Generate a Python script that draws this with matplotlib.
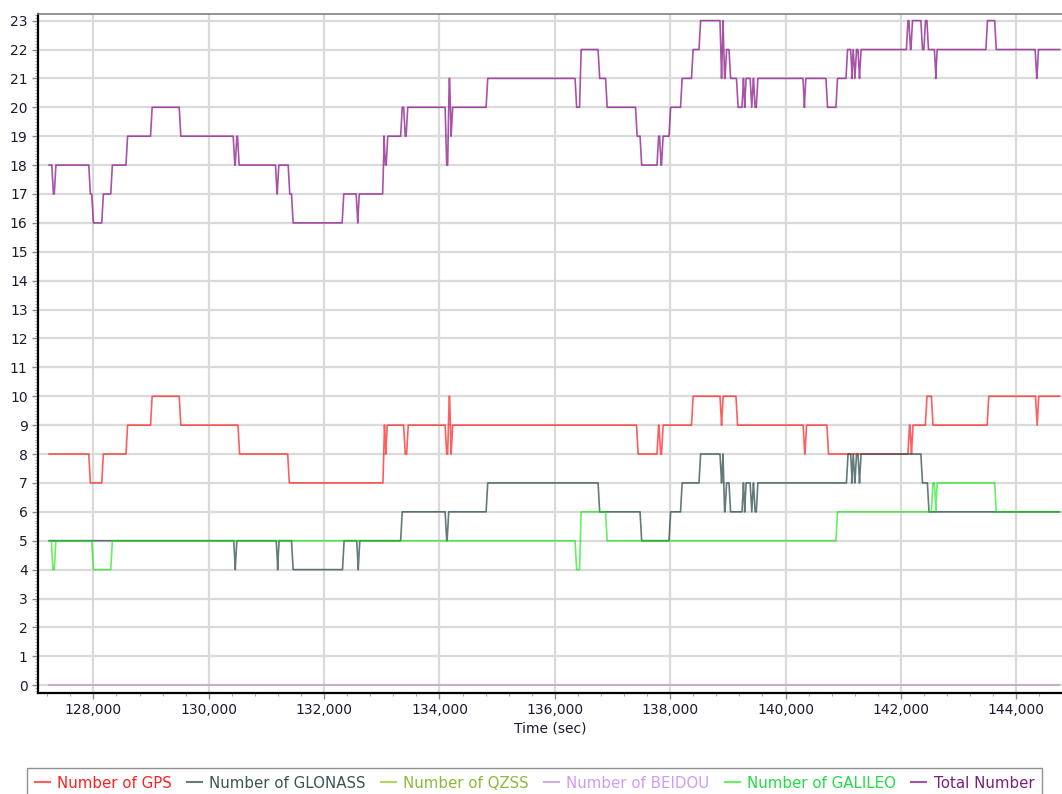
import matplotlib
matplotlib.use('Agg')
import matplotlib.pyplot as plt
from matplotlib.ticker import MultipleLocator, FuncFormatter
from matplotlib.lines import Line2D

# change points (time in sec, satellite count)
gps_t = [127232, 127934, 128159, 128579, 129005, 129502, 130521, 131383, 133034, 133059,
         133081, 133393, 133445, 134112, 134156, 134190, 134216, 137431, 137786, 137821,
         137864, 138384, 138878, 138904, 139155, 140320, 140351, 140732, 142136, 142171,
         142197, 142439, 142543, 143510, 144349, 144377, 144750]
gps_n = [8, 7, 8, 9, 10, 9, 8, 7, 9, 8,
         9, 8, 9, 8, 10, 8, 9, 8, 9, 8,
         9, 10, 9, 10, 9, 8, 9, 8, 9, 8,
         9, 10, 9, 10, 9, 10, 10]

glo_t = [127232, 130447, 130473, 131184, 131206, 131449, 132333, 132579, 132605, 133341,
         134112, 134147, 134823, 136764, 137492, 137994, 138194, 138514, 138878, 138904,
         138930, 138965, 139034, 139259, 139282, 139303, 139401, 139429, 139459, 139507,
         141070, 141143, 141160, 141188, 141217, 141270, 141296, 142361, 142474, 144750]
glo_n = [5, 4, 5, 4, 5, 4, 5, 4, 5, 6,
         5, 6, 7, 6, 5, 6, 7, 8, 7, 8,
         6, 7, 6, 7, 6, 7, 6, 7, 6, 7,
         8, 7, 8, 7, 8, 7, 8, 7, 6, 6]

qzss_t = [127232, 144750]
qzss_n = [0, 0]

beidou_t = [127232, 144750]
beidou_n = [0, 0]

gal_t = [127232, 127285, 127336, 127986, 128315, 136365, 136443, 136894, 140888, 142543,
         142595, 142616, 143640, 144750]
gal_n = [5, 4, 5, 4, 5, 4, 6, 5, 6, 7,
         6, 7, 6, 6]

total_t = [127232, 127293, 127336, 127934, 127986, 128159, 128315, 128579, 129005, 129502,
           130438, 130473, 130513, 131171, 131201, 131391, 131449, 132327, 132570, 132596,
           133029, 133050, 133090, 133341, 133393, 133436, 134112, 134156, 134190, 134216,
           134823, 136365, 136443, 136764, 136894, 137414, 137492, 137786, 137830, 137864,
           137994, 138194, 138384, 138514, 138878, 138904, 138930, 138965, 139034, 139164,
           139259, 139282, 139303, 139401, 139429, 139459, 139507, 140316, 140339, 140715,
           140888, 141062, 141143, 141160, 141188, 141217, 141270, 141296, 142110, 142153,
           142188, 142361, 142413, 142465, 142595, 142616, 143488, 143640, 144342, 144372,
           144750]
total_n = [18, 17, 18, 17, 16, 17, 18, 19, 20, 19,
           18, 19, 18, 17, 18, 17, 16, 17, 16, 17,
           19, 18, 19, 20, 19, 20, 18, 21, 19, 20,
           21, 20, 22, 21, 20, 19, 18, 19, 18, 19,
           20, 21, 22, 23, 21, 23, 21, 22, 21, 20,
           21, 20, 21, 20, 21, 20, 21, 20, 21, 20,
           21, 22, 21, 22, 21, 22, 21, 22, 23, 22,
           23, 22, 23, 22, 21, 22, 23, 22, 21, 22,
           22]

labels = ['Number of GPS', 'Number of GLONASS', 'Number of QZSS',
          'Number of BEIDOU', 'Number of GALILEO', 'Total Number']
line_colors = ['#ff1a1a', '#2f4f4f', '#9acd32', '#c9a6e6', '#00e600', '#8b1a8b']
line_alpha = [0.7, 0.75, 0.8, 0.9, 0.6, 0.75]
text_colors = ['#ff2020', '#3a5555', '#8fb83a', '#cf9cf5', '#22dd44', '#7a1f7a']


def ramp(t, n, dt=28):
    # samples are ~30 s apart, so each change is a short slope, not a vertical step
    xs, ys = [t[0]], [n[0]]
    for i in range(1, len(t)):
        if n[i] != n[i - 1]:
            xs.append(t[i] - dt / 2)
            ys.append(n[i - 1])
            xs.append(t[i] + dt / 2)
            ys.append(n[i])
        else:
            xs.append(t[i])
            ys.append(n[i])
    return xs, ys


fig = plt.figure(figsize=(10.62, 7.94), dpi=100)
ax = fig.add_axes([0.0358, 0.1272, 0.9640, 0.8552])

data = [(gps_t, gps_n), (glo_t, glo_n), (qzss_t, qzss_n),
        (beidou_t, beidou_n), (gal_t, gal_n), (total_t, total_n)]
for (t, n), c, a in zip(data, line_colors, line_alpha):
    xs, ys = ramp(t, n)
    ax.plot(xs, ys, color=c, alpha=a, lw=1.2)

ax.set_xlim(127040, 144790)
ax.set_ylim(-0.27, 23.23)
ax.xaxis.set_major_locator(MultipleLocator(2000))
ax.xaxis.set_minor_locator(MultipleLocator(400))
ax.yaxis.set_major_locator(MultipleLocator(1))
ax.yaxis.set_minor_locator(MultipleLocator(0.1))
ax.xaxis.set_major_formatter(FuncFormatter(lambda v, p: f'{int(v):,}'))

ax.grid(True, which='major', color='#dadada', lw=1.6)
ax.set_axisbelow(True)
ax.tick_params(which='major', direction='out', length=4, width=1, color='#8a8a8a',
               labelsize=10, labelcolor='#1c1c30')
ax.tick_params(which='minor', direction='out', length=2.5, width=0.8, color='#a8a8a8')

ax.spines['left'].set_color('black')
ax.spines['left'].set_linewidth(1.6)
ax.spines['bottom'].set_color('black')
ax.spines['bottom'].set_linewidth(1.6)
ax.spines['top'].set_color('#808080')
ax.spines['top'].set_linewidth(1.2)
ax.spines['right'].set_visible(False)

ax.set_xlabel('Time (sec)', fontsize=10, color='#1c1c30', labelpad=3)

handles = [Line2D([], [], color=c, alpha=a, lw=1.5) for c, a in zip(line_colors, line_alpha)]
leg = ax.legend(handles, labels, loc='upper left', bbox_to_anchor=(27 / 1062, 26 / 794),
                bbox_transform=fig.transFigure, ncol=6, fancybox=False, framealpha=1,
                edgecolor='#909090', fontsize=10.8, handlelength=1.0, handletextpad=0.5,
                columnspacing=1.0, borderpad=0.5, borderaxespad=0)
for txt, c in zip(leg.get_texts(), text_colors):
    txt.set_color(c)

fig.savefig('out.png', dpi=100)
